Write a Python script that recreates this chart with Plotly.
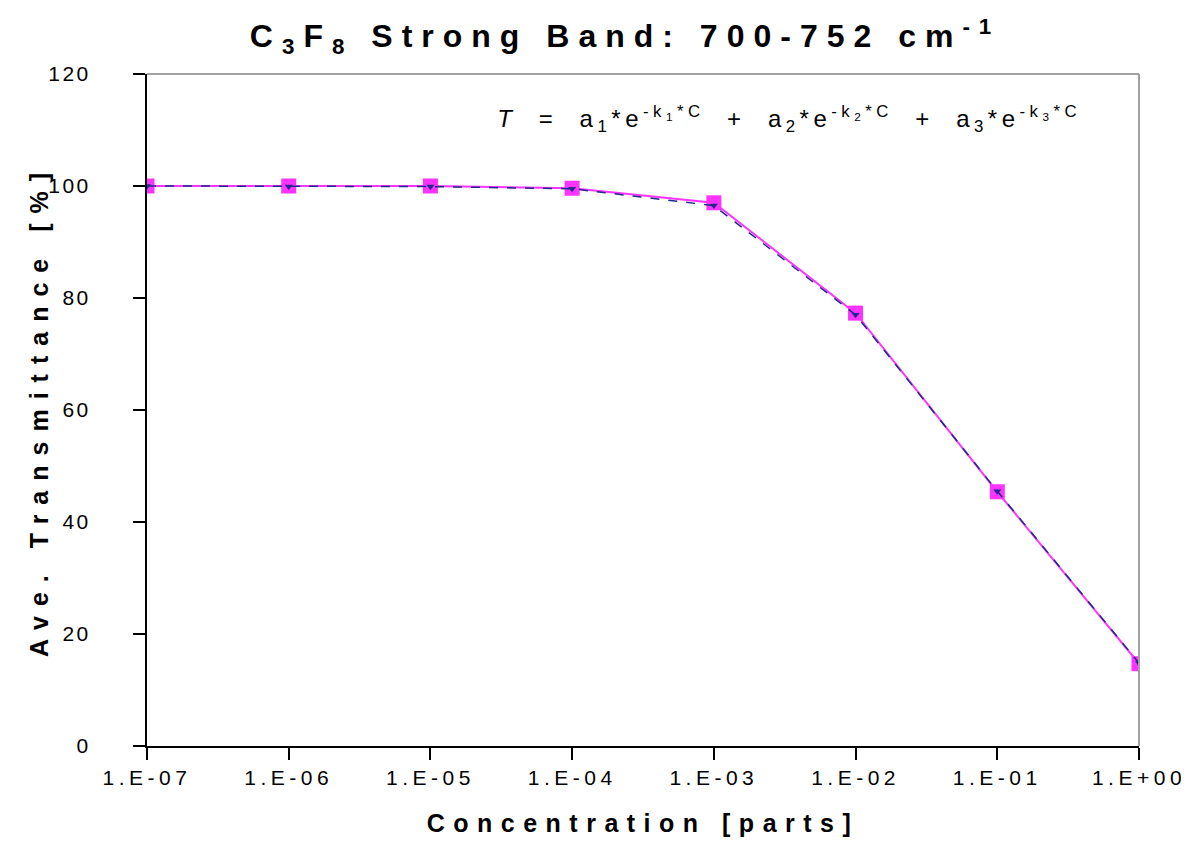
import plotly.graph_objects as go

concentration = [1e-7, 1e-6, 1e-5, 1e-4, 1e-3, 1e-2, 1e-1, 1e0]
measured = [100.0, 99.9, 99.9, 99.5, 96.5, 77.0, 45.5, 14.8]
fitted = [100.0, 100.0, 100.0, 99.6, 97.0, 77.3, 45.4, 14.7]
x_tickvals = [1e-7, 1e-6, 1e-5, 1e-4, 1e-3, 1e-2, 1e-1, 1e0]
x_ticktext = ["1.E-07", "1.E-06", "1.E-05", "1.E-04", "1.E-03", "1.E-02", "1.E-01", "1.E+00"]
y_tickvals = [0, 20, 40, 60, 80, 100, 120]

font_family = "Liberation Sans, Arial, sans-serif"

fig = go.Figure()
fig.add_trace(go.Scatter(
    x=concentration, y=fitted, mode="lines+markers",
    line=dict(color="#FF33FF", width=2),
    marker=dict(symbol="square", size=15, color="#FF33FF"),
    showlegend=False,
))
fig.add_trace(go.Scatter(
    x=concentration, y=measured, mode="lines+markers",
    line=dict(color="#1F2A8C", width=1.5, dash="dash"),
    marker=dict(symbol="triangle-down", size=7, color="#1F2A8C"),
    showlegend=False,
))

fig.update_layout(
    width=1189, height=845,
    margin=dict(l=139, r=58, t=66, b=107),
    paper_bgcolor="white", plot_bgcolor="white",
    font=dict(family=font_family, color="black"),
    title=dict(
        text="<b>C<sub>3</sub>F<sub>8</sub> Strong Band: 700-752 cm<sup>-1</sup></b>",
        xref="container", x=0.519, xanchor="center",
        yref="container", y=0.967, yanchor="middle",
        font=dict(size=32, family=font_family, color="black"),
    ),
    xaxis=dict(
        type="log", range=[-7, 0],
        tickvals=x_tickvals, ticktext=x_ticktext,
        ticks="outside", ticklen=12, tickwidth=1.5, tickcolor="black",
        showline=True, linecolor="black", linewidth=2,
        showgrid=False, zeroline=False,
        tickfont=dict(size=21, family=font_family),
        title=dict(text="<b>Concentration [parts]</b>", font=dict(size=25, family=font_family), standoff=26),
    ),
    yaxis=dict(
        range=[0, 120], tickvals=y_tickvals,
        ticks="outside", ticklen=12, tickwidth=1.5, tickcolor="black",
        showline=True, linecolor="black", linewidth=2,
        showgrid=False, zeroline=False,
        tickfont=dict(size=21, family=font_family),
        ticklabelstandoff=38,
        title=dict(text="<b>Ave. Transmittance [%]</b>", font=dict(size=25, family=font_family), standoff=0),
    ),
    shapes=[
        dict(type="line", xref="paper", yref="paper", x0=0, x1=1, y0=1, y1=1,
             line=dict(color="#A0A0A0", width=2)),
        dict(type="line", xref="paper", yref="paper", x0=1, x1=1, y0=0, y1=1,
             line=dict(color="#A0A0A0", width=2)),
    ],
    annotations=[
        dict(
            text="<i>T</i>  =  a<sub>1</sub>*e<sup>-k<sub>1</sub>*C</sup>  +  a<sub>2</sub>*e<sup>-k<sub>2</sub>*C</sup>  +  a<sub>3</sub>*e<sup>-k<sub>3</sub>*C</sup>",
            xref="paper", yref="paper", x=0.647, y=0.933, xanchor="center", yanchor="middle",
            showarrow=False, font=dict(size=24, family=font_family, color="black"),
        )
    ],
)

post = """
var gd = document.getElementById('{plot_id}');
function sp(sel, v){ gd.querySelectorAll(sel).forEach(function(e){ e.style.letterSpacing = v; }); }
sp('.gtitle', '9px');
sp('.xtitle', '8.5px');
sp('.ytitle', '10px');
sp('.xtick text', '4.5px');
sp('.ytick text', '2.5px');
sp('.annotation-text', '4.5px');
"""

fig.write_html("out.html", post_script=post)
